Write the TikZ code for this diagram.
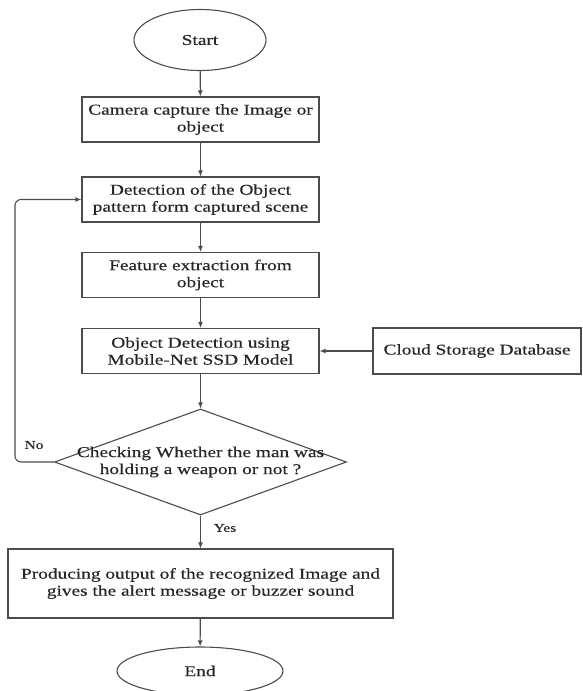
\documentclass[tikz,border=0pt]{standalone}
\usepackage{fontspec}
\setmainfont{Liberation Serif}[FakeStretch=1.29,FakeBold=0.4]
\usetikzlibrary{shapes.geometric,arrows.meta}
\begin{document}
\begin{tikzpicture}[x=1pt,y=-1pt,
  ln/.style={draw=black!70, line width=1.1pt},
  txt/.style={text=black!85, font=\fontsize{15}{17}\selectfont, align=center},
  procbox/.style={ln, txt, rectangle, inner sep=0pt, minimum width=237pt, minimum height=45pt},
  term/.style={ln, txt, ellipse, inner sep=0pt},
  arr/.style={draw=black!70, line width=1.1pt, -{Latex[length=6pt,width=5pt]}}]
\useasboundingbox (0,0) rectangle (582,691);
\node[term, minimum width=132pt, minimum height=61pt] (start) at (200,40) {Start};
\node[procbox] (b1) at (200.5,119.5) {Camera capture the Image or\\object};
\node[procbox] (b2) at (200.5,199.5) {Detection of the Object\\pattern form captured scene};
\node[procbox] (b3) at (200.5,275) {Feature extraction from\\object};
\node[procbox] (b4) at (200.5,351) {Object Detection using\\Mobile-Net SSD Model};
\node[procbox, minimum width=208pt, minimum height=46pt] (cloud) at (477,351) {Cloud Storage Database};
\node[ln, diamond, inner sep=0pt, minimum width=292pt, minimum height=106pt] (dec) at (200.5,462) {};
\node[txt] (dectext) at (dec.center) {Checking Whether the man was\\holding a weapon or not ?};
\node[procbox, minimum width=385pt, minimum height=69pt] (b5) at (200.5,583.5) {Producing output of the recognized Image and\\gives the alert message or buzzer sound};
\node[term, minimum width=166pt, minimum height=48pt] (end) at (200,671) {End};
\node[txt, font=\fontsize{12}{14}\selectfont] (no) at (34,445) {No};
\node[txt, font=\fontsize{12}{14}\selectfont] (yes) at (225,528) {Yes};
\coordinate (fb) at (15,462);
\draw[arr] (start) -- (b1);
\draw[arr] (b1) -- (b2);
\draw[arr] (b2) -- (b3);
\draw[arr] (b3) -- (b4);
\draw[arr] (cloud) -- (b4);
\draw[arr] (b4) -- (dec.north);
\draw[arr] (dec.south) -- (b5);
\draw[arr] (b5) -- (end);
\draw[arr, rounded corners=6pt] (dec.west) -- (fb) |- (b2.west);
\end{tikzpicture}
\end{document}
